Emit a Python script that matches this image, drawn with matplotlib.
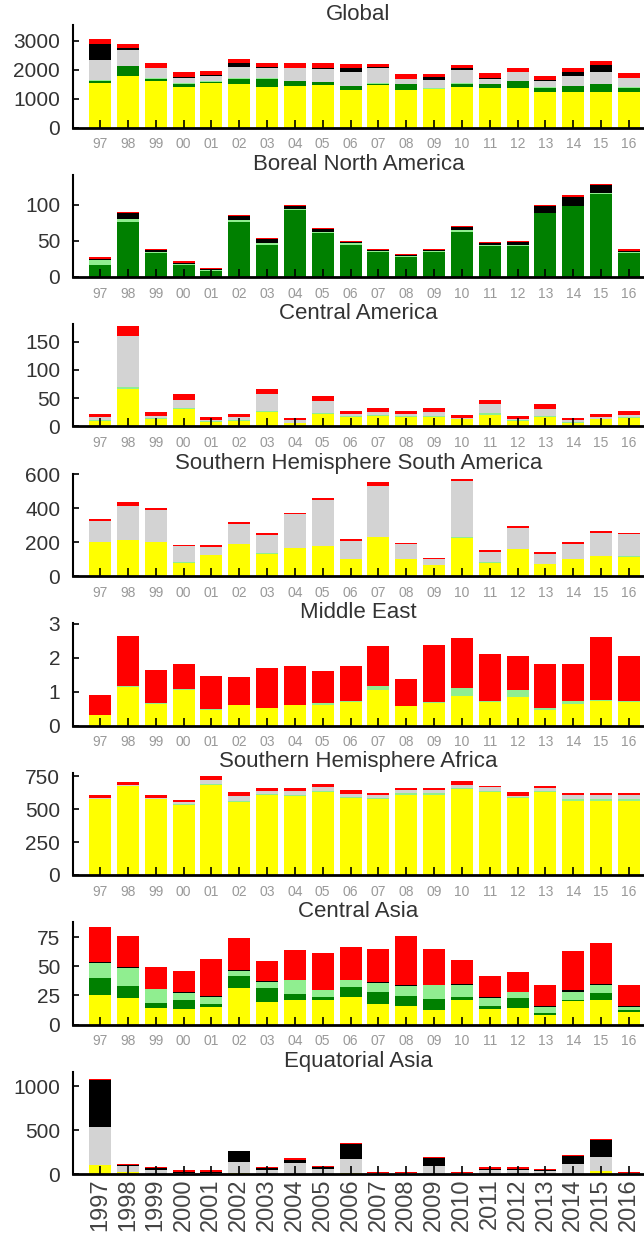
import matplotlib.pyplot as plt
import numpy as np

plt.rcParams['font.family'] = ['Liberation Sans', 'DejaVu Sans']

years = list(range(1997, 2017))
short_labels = ["97", "98", "99", "00", "01", "02", "03", "04", "05", "06",
                "07", "08", "09", "10", "11", "12", "13", "14", "15", "16"]
long_labels = [str(y) for y in years]

# Global
glob_sava = [1530, 1780, 1590, 1390, 1550, 1490, 1390, 1440, 1470, 1300, 1470, 1300, 1320, 1410, 1360, 1360, 1240, 1240, 1240, 1240]
glob_borf = [90, 330, 90, 120, 20, 190, 290, 150, 100, 120, 40, 190, 25, 100, 130, 230, 130, 180, 250, 130]
glob_temf = [30, 30, 25, 20, 40, 20, 20, 20, 15, 20, 40, 20, 15, 20, 20, 20, 20, 15, 15, 20]
glob_defo = [680, 540, 340, 190, 170, 400, 340, 430, 450, 460, 490, 160, 285, 460, 160, 290, 230, 345, 425, 310]
glob_peat = [570, 60, 20, 20, 20, 140, 60, 30, 30, 150, 60, 10, 90, 50, 30, 30, 20, 150, 230, 20]
glob_agri = [150, 160, 175, 160, 150, 115, 120, 170, 175, 145, 95, 170, 115, 110, 175, 115, 140, 115, 140, 175]

# Boreal North America
bona_borf = [17, 76, 33, 16, 8, 76, 45, 93, 61, 45, 35, 28, 34, 62, 43, 43, 88, 98, 115, 33]
bona_temf = [6, 5, 2, 2, 1.5, 3, 1.5, 1, 1, 1.5, 0.5, 0.5, 2, 3, 1, 2, 1, 1, 1, 1.5]
bona_peat = [2, 7, 3, 1, 1, 6, 6.5, 4, 5, 2, 2.5, 2, 1, 4, 3, 4, 9, 12, 11, 2]
bona_agri = [3, 2, 1, 3, 2, 1.5, 1.5, 1.5, 1, 1.5, 1, 2, 1.5, 1.5, 1, 1.5, 1.5, 2, 2, 2]

# Central America
ceam_sava = [9, 66, 13, 31, 8, 9, 25, 6, 22, 17, 19, 17, 17, 13, 21, 10, 17, 7, 13, 15]
ceam_temf = [2, 4, 2, 2, 1, 2, 2, 1, 2, 2, 1.5, 2, 2, 1, 3, 1, 2, 1, 1, 1]
ceam_defo = [5, 89, 4, 14, 2, 5, 31, 4, 21, 3, 4.5, 3, 6, 1.5, 15, 3, 12, 3, 2, 4]
ceam_agri = [6, 19, 6, 11, 5, 6, 8, 4, 8, 6, 8, 6, 8, 5.5, 7, 4, 9, 4, 6, 7]

# Southern Hemisphere South America
shsa_sava = [200, 210, 200, 79, 124, 187, 132, 163, 177, 98, 230, 98, 65, 226, 79, 157, 69, 98, 118, 114]
shsa_temf = [2, 5, 2, 1, 1, 2, 2, 2, 2, 2, 2, 2, 1, 2, 1, 2, 1, 2, 2, 2]
shsa_defo = [123, 200, 186, 97, 46, 120, 108, 199, 268, 107, 299, 87, 32, 333, 64, 126, 62, 91, 136, 130]
shsa_agri = [10, 20, 10, 6, 10, 10, 10, 8, 10, 10, 20, 8, 10, 8, 8, 10, 10, 10, 12, 8]

# Middle East
mide_sava = [0.30, 1.12, 0.63, 1.05, 0.46, 0.59, 0.51, 0.59, 0.60, 0.68, 1.05, 0.56, 0.66, 0.88, 0.68, 0.85, 0.46, 0.63, 0.73, 0.68]
mide_temf = [0.02, 0.05, 0.02, 0.02, 0.02, 0.02, 0.02, 0.02, 0.05, 0.03, 0.12, 0.02, 0.03, 0.22, 0.03, 0.20, 0.05, 0.10, 0.03, 0.03]
mide_agri = [0.59, 1.48, 0.98, 0.74, 0.99, 0.81, 1.15, 1.15, 0.97, 1.05, 1.17, 0.80, 1.67, 1.47, 1.40, 1.00, 1.30, 1.08, 1.86, 1.35]

# Southern Hemisphere Africa
shaf_sava = [578, 674, 578, 534, 687, 552, 611, 598, 628, 585, 578, 611, 611, 654, 628, 585, 628, 560, 560, 560]
shaf_temf = [3, 3, 3, 5, 8, 12, 8, 10, 10, 10, 10, 12, 12, 10, 10, 8, 10, 15, 15, 15]
shaf_defo = [5, 5, 5, 13, 25, 39, 17, 28, 31, 23, 23, 26, 26, 23, 31, 10, 24, 36, 36, 36]
shaf_agri = [25, 22, 25, 15, 30, 25, 26, 26, 26, 31, 12, 13, 13, 25, 10, 25, 12, 12, 12, 12]

# Central Asia
ceas_sava = [25, 22.7, 14, 13.3, 15, 31, 19, 21, 21, 23.5, 17.8, 16, 12.7, 21, 13.3, 14, 8.5, 19.8, 20.7, 10.5]
ceas_borf = [15, 10.5, 4.4, 7.7, 2.8, 10.6, 12, 5, 3, 8.5, 10.5, 8.6, 9, 2.5, 2.7, 9, 1.5, 0.9, 6.3, 1.7]
ceas_temf = [13, 15, 12, 6, 5.7, 4.6, 5.8, 12, 5.7, 6, 7.7, 8.4, 12.2, 10.5, 7, 4.8, 5, 7.6, 7, 2.8]
ceas_peat = [0.5, 1, 0.3, 0.8, 1, 0.5, 0.3, 0.3, 0.3, 0.3, 0.8, 0.8, 0.3, 1.2, 1, 0.4, 1, 1.2, 0.4, 1]
ceas_agri = [30, 26.5, 19, 18, 32, 27.5, 17.5, 26, 31.5, 28.5, 28, 42.5, 31, 20, 17.6, 17, 18, 33.5, 36, 18]

# Equatorial Asia
eqas_sava = [100, 20, 5, 2, 2, 10, 3, 5, 5, 10, 2, 2, 5, 2, 3, 3, 2, 5, 38, 2]
eqas_defo = [435, 75, 45, 15, 15, 125, 45, 115, 50, 165, 5, 5, 92, 5, 40, 40, 30, 110, 152, 4]
eqas_peat = [535, 5, 20, 8, 8, 122, 15, 45, 30, 170, 3, 3, 88, 3, 10, 10, 10, 95, 199, 3]
eqas_agri = [20, 15, 15, 15, 15, 10, 15, 12, 12, 12, 10, 10, 11, 10, 25, 25, 18, 11, 11, 10]

colors = {"sava": "#ffff00", "borf": "#008000", "temf": "#90ee90",
          "defo": "#d3d3d3", "peat": "#000000", "agri": "#ff0000"}
order = ["sava", "borf", "temf", "defo", "peat", "agri"]

panels = [
    ("Global", {"sava": glob_sava, "borf": glob_borf, "temf": glob_temf,
                "defo": glob_defo, "peat": glob_peat, "agri": glob_agri},
     3540, [0, 1000, 2000, 3000]),
    ("Boreal North America", {"borf": bona_borf, "temf": bona_temf,
                              "peat": bona_peat, "agri": bona_agri},
     142, [0, 50, 100]),
    ("Central America", {"sava": ceam_sava, "temf": ceam_temf,
                         "defo": ceam_defo, "agri": ceam_agri},
     181, [0, 50, 100, 150]),
    ("Southern Hemisphere South America", {"sava": shsa_sava, "temf": shsa_temf,
                                           "defo": shsa_defo, "agri": shsa_agri},
     604, [0, 200, 400, 600]),
    ("Middle East", {"sava": mide_sava, "temf": mide_temf, "agri": mide_agri},
     3.02, [0, 1, 2, 3]),
    ("Southern Hemisphere Africa", {"sava": shaf_sava, "temf": shaf_temf,
                                    "defo": shaf_defo, "agri": shaf_agri},
     780, [0, 250, 500, 750]),
    ("Central Asia", {"sava": ceas_sava, "borf": ceas_borf, "temf": ceas_temf,
                      "peat": ceas_peat, "agri": ceas_agri},
     88, [0, 25, 50, 75]),
    ("Equatorial Asia", {"sava": eqas_sava, "defo": eqas_defo,
                         "peat": eqas_peat, "agri": eqas_agri},
     1170, [0, 500, 1000]),
]

W, H = 644, 1239
fig = plt.figure(figsize=(W / 100, H / 100), dpi=100)
x = np.arange(len(years))
left_px = 72.7
ax_h = 102.5

for i, (title, parts, ymax, yticks) in enumerate(panels):
    top = 25 + i * 149.5
    ax = fig.add_axes([left_px / W, 1 - (top + ax_h) / H, 1 - left_px / W, ax_h / H])
    bottom = np.zeros(len(years))
    for key in order:
        if key in parts:
            vals = np.array(parts[key], dtype=float)
            ax.bar(x, vals, bottom=bottom, width=0.79, color=colors[key], linewidth=0)
            bottom += vals
    ax.set_xlim(-0.98, 19.54)
    ax.set_ylim(0, ymax)
    ax.set_yticks(yticks)
    ax.set_xticks(x)
    last = i == len(panels) - 1
    if last:
        ax.set_xticklabels(long_labels, rotation=90)
        ax.tick_params(axis="x", labelsize=17, labelcolor="#444444", pad=3)
    else:
        ax.set_xticklabels(short_labels)
        ax.tick_params(axis="x", labelsize=10, labelcolor="#999999", pad=7)
    ax.tick_params(axis="x", direction="in", length=5.5, width=1.2, color="black")
    ax.tick_params(axis="y", direction="in", length=4, width=1.2, color="black",
                   labelsize=15, labelcolor="#333333", pad=9)
    for s in ("top", "right"):
        ax.spines[s].set_visible(False)
    ax.spines["left"].set_linewidth(1.5)
    ax.spines["bottom"].set_linewidth(2)
    ax.set_title(title, fontsize=16, color="#333333", pad=1)

fig.savefig("out.png", dpi=100)
